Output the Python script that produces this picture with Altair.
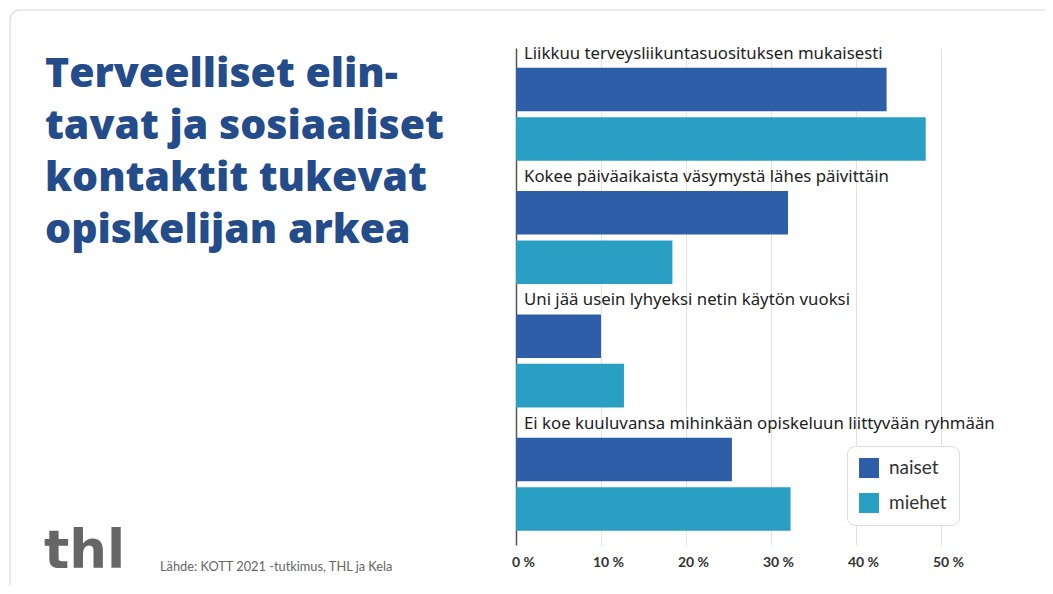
import altair as alt
import pandas as pd

categories = [
    "Liikkuu terveysliikuntasuosituksen mukaisesti",
    "Kokee päiväaikaista väsymystä lähes päivittäin",
    "Uni jää usein lyhyeksi netin käytön vuoksi",
    "Ei koe kuuluvansa mihinkään opiskeluun liittyvään ryhmään",
]
series = ["naiset", "miehet"]
naiset = [43.6, 32.0, 10.0, 25.4]
miehet = [48.2, 18.4, 12.7, 32.3]
tick_values = [0, 10, 20, 30, 40, 50]
title_lines = ["Terveelliset elin-", "tavat ja sosiaaliset", "kontaktit tukevat", "opiskelijan arkea"]
source_text = "Lähde: KOTT 2021 -tutkimus, THL ja Kela"
logo_text = "thl"

rows = []
for c, n, m in zip(categories, naiset, miehet):
    rows.append({"category": c, "series": "naiset", "value": n})
    rows.append({"category": c, "series": "miehet", "value": m})
df = pd.DataFrame(rows)
labels_df = pd.DataFrame({"category": categories})

FONT = "Noto Sans"
C_NAISET = "#2e5ea8"
C_MIEHET = "#2a9fc4"

yscale = alt.Scale(domain=categories, paddingInner=0.246, paddingOuter=0.138, align=0.58)
xscale = alt.Scale(domain=[0, 60], nice=False)

bars = alt.Chart(df).mark_bar().encode(
    x=alt.X("value:Q", scale=xscale,
            axis=alt.Axis(values=tick_values, title=None, labelExpr="datum.value + ' %'",
                          domain=False, ticks=False, grid=True, gridColor="#e2e2e2",
                          labelFont="Lato", labelFontSize=14, labelColor="#333",
                          labelFontWeight="bold", labelAlign="center", labelOffset=7,
                          labelPadding=10)),
    y=alt.Y("category:N", scale=yscale,
            axis=alt.Axis(title=None, labels=False, ticks=False, grid=False,
                          domain=True, domainColor="#555", domainWidth=1.5)),
    yOffset=alt.YOffset("series:N", sort=series, scale=alt.Scale(paddingInner=0.12, paddingOuter=0)),
    color=alt.Color("series:N", sort=series,
                    scale=alt.Scale(domain=series, range=[C_NAISET, C_MIEHET]),
                    legend=alt.Legend(title=None, orient="none", legendX=331, legendY=398,
                                      padding=12, fillColor="white", strokeColor="#dcdcdc",
                                      cornerRadius=8, symbolType="square", symbolSize=400,
                                      symbolStrokeWidth=0, labelFont="Lato", labelFontSize=19,
                                      labelColor="#333", rowPadding=15, labelOffset=10)),
)

labels = alt.Chart(labels_df).mark_text(
    align="left", baseline="bottom", dx=8, dy=-5, font=FONT, fontSize=16.8, color="#222"
).encode(
    x=alt.datum(0),
    y=alt.Y("category:N", scale=yscale, bandPosition=0),
    text="category:N",
)

card = alt.Chart(pd.DataFrame({"a": [0]})).mark_rect(
    fill=None, stroke="#dadada", strokeWidth=1.2, cornerRadius=10
).encode(x=alt.value(-506), x2=alt.value(570), y=alt.value(-38), y2=alt.value(580))

title = alt.Chart(pd.DataFrame({"t": [title_lines]})).mark_text(
    align="left", baseline="alphabetic", font="Open Sans", fontSize=41, fontWeight=800,
    color="#244c8b", lineHeight=52
).encode(x=alt.value(-471), y=alt.value(39), text="t")

logo = alt.Chart(pd.DataFrame({"t": [logo_text]})).mark_text(
    align="left", baseline="alphabetic", font="DejaVu Sans", fontSize=53, fontWeight="bold",
    color="#666"
).encode(x=alt.value(-472), y=alt.value(520), text="t:N")

source = alt.Chart(pd.DataFrame({"t": [source_text]})).mark_text(
    align="left", baseline="alphabetic", font="Lato", fontSize=12.8, color="#666"
).encode(x=alt.value(-356), y=alt.value(523), text="t:N")

chart = alt.layer(card, bars, labels, title, logo, source).properties(
    width=510, height=497,
    autosize=alt.AutoSizeParams(type="none"),
    padding={"left": 508, "top": 40, "right": 19, "bottom": 40},
).configure_view(stroke=None)

chart.save("out.html", embed_options={"renderer": "svg", "actions": False})
